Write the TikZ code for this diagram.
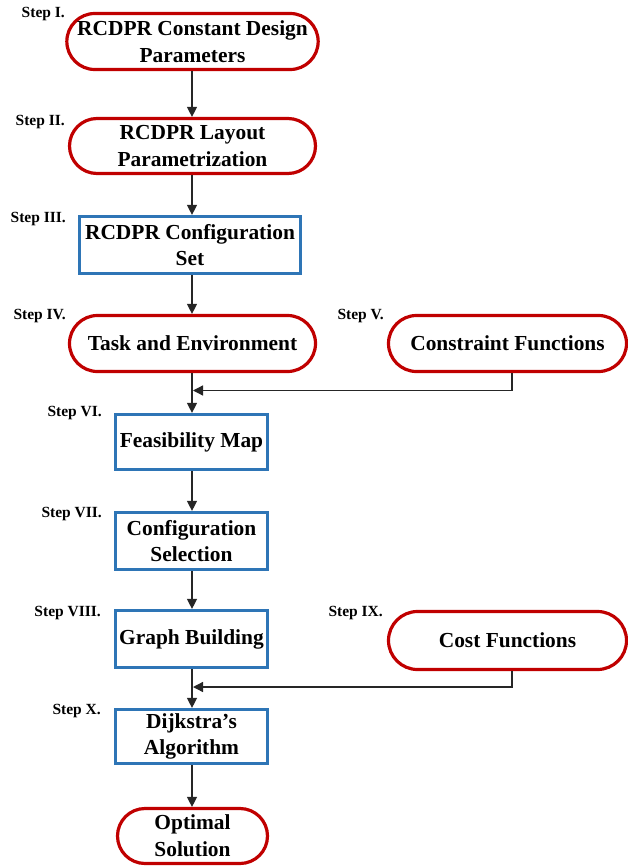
\documentclass[tikz,border=0pt]{standalone}
\usepackage{fontspec}
\setmainfont{Liberation Serif}
\usetikzlibrary{arrows.meta,shapes.misc}
\definecolor{boxred}{RGB}{192,0,0}
\definecolor{boxblue}{RGB}{46,117,182}
\tikzset{
  txt/.style={font=\fontsize{21.4}{26.7}\selectfont\bfseries, align=center, inner xsep=1pt, inner ysep=1pt},
  term/.style={txt, rounded rectangle, draw=boxred, line width=3.2pt},
  proc/.style={txt, rectangle, draw=boxblue, line width=3.2pt},
  steplbl/.style={font=\fontsize{15.5}{17}\selectfont\bfseries, anchor=base east, inner sep=0pt},
  arr/.style={draw=black!85, line width=1.3pt, -{Triangle[length=10pt,width=10pt]}},
  ln/.style={draw=black!85, line width=1.3pt}
}
\begin{document}
\begin{tikzpicture}[x=1pt,y=1pt]
\useasboundingbox (0,0) rectangle (628,-867);
% boxes
\node[term, minimum width=248pt, minimum height=56pt] (s1) at (192.5,-41.5) {RCDPR Constant Design\\Parameters};
\node[term, minimum width=248pt, minimum height=55pt] (s2) at (192.5,-146) {RCDPR Layout\\Parametrization};
\node[proc, minimum width=221pt, minimum height=57pt] (s3) at (190,-245) {RCDPR Configuration\\Set};
\node[term, minimum width=248pt, minimum height=56pt] (s4) at (192.5,-343.5) {Task and Environment};
\node[term, minimum width=240pt, minimum height=56pt] (s5) at (507.5,-343.5) {Constraint Functions};
\node[proc, minimum width=152pt, minimum height=55pt] (s6) at (191.5,-442) {Feasibility Map};
\node[proc, minimum width=152pt, minimum height=57pt] (s7) at (191.5,-541) {Configuration\\Selection};
\node[proc, minimum width=152pt, minimum height=57pt] (s8) at (191.5,-639) {Graph Building};
\node[term, minimum width=240pt, minimum height=58pt] (s9) at (507.5,-640.5) {Cost Functions};
\node[proc, minimum width=152pt, minimum height=54pt] (s10) at (191.5,-736.5) {Dijkstra’s\\Algorithm};
\node[term, minimum width=152pt, minimum height=55pt] (s11) at (192.5,-836) {Optimal\\Solution};
% step labels
\node[steplbl] (l1) at (65,-17.5) {Step I.};
\node[steplbl] (l2) at (65,-125) {Step II.};
\node[steplbl] (l3) at (66,-222) {Step III.};
\node[steplbl] (l4) at (66,-319) {Step IV.};
\node[steplbl] (l5) at (384,-319) {Step V.};
\node[steplbl] (l6) at (102,-416) {Step VI.};
\node[steplbl] (l7) at (102,-517) {Step VII.};
\node[steplbl] (l8) at (101,-616) {Step VIII.};
\node[steplbl] (l9) at (383,-616) {Step IX.};
\node[steplbl] (l10) at (101,-714) {Step X.};
% junctions
\coordinate (j1) at (193,-390.5);
\coordinate (j2) at (193,-687);
% connectors
\draw[arr] (s1.south -| 192,0) -- (s2.north -| 192,0);
\draw[arr] (s2.south -| 192,0) -- (s3.north -| 192,0);
\draw[arr] (s3.south -| 192,0) -- (s4.north -| 192,0);
\draw[arr] (s4.south -| 192,0) -- (s6.north -| 192,0);
\draw[arr] (s6.south -| 192,0) -- (s7.north -| 192,0);
\draw[arr] (s7.south -| 192,0) -- (s8.north -| 192,0);
\draw[arr] (s8.south -| 192,0) -- (s10.north -| 192,0);
\draw[arr] (s10.south -| 192,0) -- (s11.north -| 192,0);
\draw[arr] (s5.south -| 512,0) |- (j1);
\draw[arr] (s9.south -| 512,0) |- (j2);
\end{tikzpicture}
\end{document}
